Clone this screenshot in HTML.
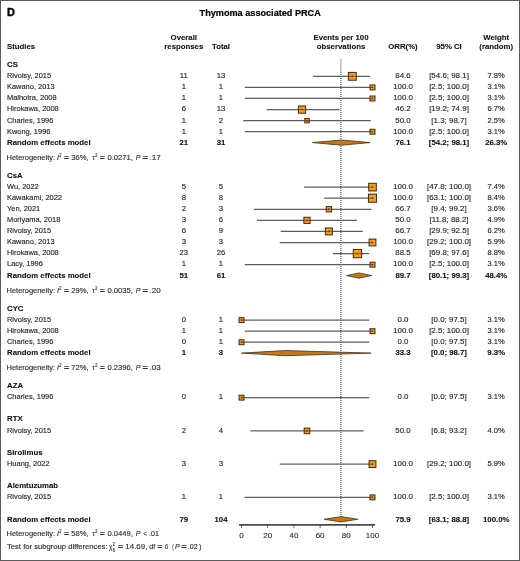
<!DOCTYPE html>
<html><head><meta charset="utf-8"><style>
html,body{margin:0;padding:0;background:#fff;}
svg{display:block;will-change:transform;}
text{font-family:"Liberation Sans",sans-serif;}
</style></head><body>
<svg width="520" height="561" viewBox="0 0 520 561">
<rect x="0" y="0" width="520" height="561" fill="#fff"/>
<rect x="0.5" y="0.5" width="519" height="560" fill="none" stroke="#5c5c5c" stroke-width="1"/>
<path d="M340.3 59h1.2V72h-1.2z" fill="#aaa"/>
<path d="M340.3 72h1.2v1h-1.2zM340.3 74h1.2v1h-1.2zM340.3 76h1.2v1h-1.2zM340.3 78h1.2v1h-1.2zM340.3 80h1.2v1h-1.2zM340.3 82h1.2v1h-1.2zM340.3 84h1.2v1h-1.2zM340.3 86h1.2v1h-1.2zM340.3 88h1.2v1h-1.2zM340.3 90h1.2v1h-1.2zM340.3 92h1.2v1h-1.2zM340.3 94h1.2v1h-1.2zM340.3 96h1.2v1h-1.2zM340.3 98h1.2v1h-1.2zM340.3 100h1.2v1h-1.2zM340.3 102h1.2v1h-1.2zM340.3 104h1.2v1h-1.2zM340.3 106h1.2v1h-1.2zM340.3 108h1.2v1h-1.2zM340.3 110h1.2v1h-1.2zM340.3 112h1.2v1h-1.2zM340.3 114h1.2v1h-1.2zM340.3 116h1.2v1h-1.2zM340.3 118h1.2v1h-1.2zM340.3 120h1.2v1h-1.2zM340.3 122h1.2v1h-1.2zM340.3 124h1.2v1h-1.2zM340.3 126h1.2v1h-1.2zM340.3 128h1.2v1h-1.2zM340.3 130h1.2v1h-1.2zM340.3 132h1.2v1h-1.2zM340.3 134h1.2v1h-1.2zM340.3 136h1.2v1h-1.2zM340.3 138h1.2v1h-1.2zM340.3 140h1.2v1h-1.2zM340.3 142h1.2v1h-1.2zM340.3 144h1.2v1h-1.2zM340.3 146h1.2v1h-1.2zM340.3 148h1.2v1h-1.2zM340.3 150h1.2v1h-1.2zM340.3 152h1.2v1h-1.2zM340.3 154h1.2v1h-1.2zM340.3 156h1.2v1h-1.2zM340.3 158h1.2v1h-1.2zM340.3 160h1.2v1h-1.2zM340.3 162h1.2v1h-1.2zM340.3 164h1.2v1h-1.2zM340.3 166h1.2v1h-1.2zM340.3 168h1.2v1h-1.2zM340.3 170h1.2v1h-1.2zM340.3 172h1.2v1h-1.2zM340.3 174h1.2v1h-1.2zM340.3 176h1.2v1h-1.2zM340.3 178h1.2v1h-1.2zM340.3 180h1.2v1h-1.2zM340.3 182h1.2v1h-1.2zM340.3 184h1.2v1h-1.2zM340.3 186h1.2v1h-1.2zM340.3 188h1.2v1h-1.2zM340.3 190h1.2v1h-1.2zM340.3 192h1.2v1h-1.2zM340.3 194h1.2v1h-1.2zM340.3 196h1.2v1h-1.2zM340.3 198h1.2v1h-1.2zM340.3 200h1.2v1h-1.2zM340.3 202h1.2v1h-1.2zM340.3 204h1.2v1h-1.2zM340.3 206h1.2v1h-1.2zM340.3 208h1.2v1h-1.2zM340.3 210h1.2v1h-1.2zM340.3 212h1.2v1h-1.2zM340.3 214h1.2v1h-1.2zM340.3 216h1.2v1h-1.2zM340.3 218h1.2v1h-1.2zM340.3 220h1.2v1h-1.2zM340.3 222h1.2v1h-1.2zM340.3 224h1.2v1h-1.2zM340.3 226h1.2v1h-1.2zM340.3 228h1.2v1h-1.2zM340.3 230h1.2v1h-1.2zM340.3 232h1.2v1h-1.2zM340.3 234h1.2v1h-1.2zM340.3 236h1.2v1h-1.2zM340.3 238h1.2v1h-1.2zM340.3 240h1.2v1h-1.2zM340.3 242h1.2v1h-1.2zM340.3 244h1.2v1h-1.2zM340.3 246h1.2v1h-1.2zM340.3 248h1.2v1h-1.2zM340.3 250h1.2v1h-1.2zM340.3 252h1.2v1h-1.2zM340.3 254h1.2v1h-1.2zM340.3 256h1.2v1h-1.2zM340.3 258h1.2v1h-1.2zM340.3 260h1.2v1h-1.2zM340.3 262h1.2v1h-1.2zM340.3 264h1.2v1h-1.2zM340.3 266h1.2v1h-1.2zM340.3 268h1.2v1h-1.2zM340.3 270h1.2v1h-1.2zM340.3 272h1.2v1h-1.2zM340.3 274h1.2v1h-1.2zM340.3 276h1.2v1h-1.2zM340.3 278h1.2v1h-1.2zM340.3 280h1.2v1h-1.2zM340.3 282h1.2v1h-1.2zM340.3 284h1.2v1h-1.2zM340.3 286h1.2v1h-1.2zM340.3 288h1.2v1h-1.2zM340.3 290h1.2v1h-1.2zM340.3 292h1.2v1h-1.2zM340.3 294h1.2v1h-1.2zM340.3 296h1.2v1h-1.2zM340.3 298h1.2v1h-1.2zM340.3 300h1.2v1h-1.2zM340.3 302h1.2v1h-1.2zM340.3 304h1.2v1h-1.2zM340.3 306h1.2v1h-1.2zM340.3 308h1.2v1h-1.2zM340.3 310h1.2v1h-1.2zM340.3 312h1.2v1h-1.2zM340.3 314h1.2v1h-1.2zM340.3 316h1.2v1h-1.2zM340.3 318h1.2v1h-1.2zM340.3 320h1.2v1h-1.2zM340.3 322h1.2v1h-1.2zM340.3 324h1.2v1h-1.2zM340.3 326h1.2v1h-1.2zM340.3 328h1.2v1h-1.2zM340.3 330h1.2v1h-1.2zM340.3 332h1.2v1h-1.2zM340.3 334h1.2v1h-1.2zM340.3 336h1.2v1h-1.2zM340.3 338h1.2v1h-1.2zM340.3 340h1.2v1h-1.2zM340.3 342h1.2v1h-1.2zM340.3 344h1.2v1h-1.2zM340.3 346h1.2v1h-1.2zM340.3 348h1.2v1h-1.2zM340.3 350h1.2v1h-1.2zM340.3 352h1.2v1h-1.2zM340.3 354h1.2v1h-1.2zM340.3 356h1.2v1h-1.2zM340.3 358h1.2v1h-1.2zM340.3 360h1.2v1h-1.2zM340.3 362h1.2v1h-1.2zM340.3 364h1.2v1h-1.2zM340.3 366h1.2v1h-1.2zM340.3 368h1.2v1h-1.2zM340.3 370h1.2v1h-1.2zM340.3 372h1.2v1h-1.2zM340.3 374h1.2v1h-1.2zM340.3 376h1.2v1h-1.2zM340.3 378h1.2v1h-1.2zM340.3 380h1.2v1h-1.2zM340.3 382h1.2v1h-1.2zM340.3 384h1.2v1h-1.2zM340.3 386h1.2v1h-1.2zM340.3 388h1.2v1h-1.2zM340.3 390h1.2v1h-1.2zM340.3 392h1.2v1h-1.2zM340.3 394h1.2v1h-1.2zM340.3 396h1.2v1h-1.2zM340.3 398h1.2v1h-1.2zM340.3 400h1.2v1h-1.2zM340.3 402h1.2v1h-1.2zM340.3 404h1.2v1h-1.2zM340.3 406h1.2v1h-1.2zM340.3 408h1.2v1h-1.2zM340.3 410h1.2v1h-1.2zM340.3 412h1.2v1h-1.2zM340.3 414h1.2v1h-1.2zM340.3 416h1.2v1h-1.2zM340.3 418h1.2v1h-1.2zM340.3 420h1.2v1h-1.2zM340.3 422h1.2v1h-1.2zM340.3 424h1.2v1h-1.2zM340.3 426h1.2v1h-1.2zM340.3 428h1.2v1h-1.2zM340.3 430h1.2v1h-1.2zM340.3 432h1.2v1h-1.2zM340.3 434h1.2v1h-1.2zM340.3 436h1.2v1h-1.2zM340.3 438h1.2v1h-1.2zM340.3 440h1.2v1h-1.2zM340.3 442h1.2v1h-1.2zM340.3 444h1.2v1h-1.2zM340.3 446h1.2v1h-1.2zM340.3 448h1.2v1h-1.2zM340.3 450h1.2v1h-1.2zM340.3 452h1.2v1h-1.2zM340.3 454h1.2v1h-1.2zM340.3 456h1.2v1h-1.2zM340.3 458h1.2v1h-1.2zM340.3 460h1.2v1h-1.2zM340.3 462h1.2v1h-1.2zM340.3 464h1.2v1h-1.2zM340.3 466h1.2v1h-1.2zM340.3 468h1.2v1h-1.2zM340.3 470h1.2v1h-1.2zM340.3 472h1.2v1h-1.2zM340.3 474h1.2v1h-1.2zM340.3 476h1.2v1h-1.2zM340.3 478h1.2v1h-1.2zM340.3 480h1.2v1h-1.2zM340.3 482h1.2v1h-1.2zM340.3 484h1.2v1h-1.2zM340.3 486h1.2v1h-1.2zM340.3 488h1.2v1h-1.2zM340.3 490h1.2v1h-1.2zM340.3 492h1.2v1h-1.2zM340.3 494h1.2v1h-1.2zM340.3 496h1.2v1h-1.2zM340.3 498h1.2v1h-1.2zM340.3 500h1.2v1h-1.2zM340.3 502h1.2v1h-1.2zM340.3 504h1.2v1h-1.2zM340.3 506h1.2v1h-1.2zM340.3 508h1.2v1h-1.2zM340.3 510h1.2v1h-1.2zM340.3 512h1.2v1h-1.2zM340.3 514h1.2v1h-1.2zM340.3 516h1.2v1h-1.2z" fill="#555"/>
<line x1="313.03" y1="76.32" x2="370.01" y2="76.32" stroke="#5e5e5e" stroke-width="1.25"/>
<line x1="244.78" y1="87.40" x2="372.50" y2="87.40" stroke="#5e5e5e" stroke-width="1.25"/>
<line x1="244.78" y1="98.48" x2="372.50" y2="98.48" stroke="#5e5e5e" stroke-width="1.25"/>
<line x1="266.65" y1="109.56" x2="339.62" y2="109.56" stroke="#5e5e5e" stroke-width="1.25"/>
<line x1="243.20" y1="120.64" x2="370.80" y2="120.64" stroke="#5e5e5e" stroke-width="1.25"/>
<line x1="244.78" y1="131.72" x2="372.50" y2="131.72" stroke="#5e5e5e" stroke-width="1.25"/>
<line x1="304.12" y1="187.12" x2="372.50" y2="187.12" stroke="#5e5e5e" stroke-width="1.25"/>
<line x1="324.16" y1="198.20" x2="372.50" y2="198.20" stroke="#5e5e5e" stroke-width="1.25"/>
<line x1="253.81" y1="209.28" x2="371.45" y2="209.28" stroke="#5e5e5e" stroke-width="1.25"/>
<line x1="256.96" y1="220.36" x2="357.04" y2="220.36" stroke="#5e5e5e" stroke-width="1.25"/>
<line x1="280.67" y1="231.44" x2="362.68" y2="231.44" stroke="#5e5e5e" stroke-width="1.25"/>
<line x1="279.75" y1="242.52" x2="372.50" y2="242.52" stroke="#5e5e5e" stroke-width="1.25"/>
<line x1="332.94" y1="253.60" x2="369.36" y2="253.60" stroke="#5e5e5e" stroke-width="1.25"/>
<line x1="244.78" y1="264.68" x2="372.50" y2="264.68" stroke="#5e5e5e" stroke-width="1.25"/>
<line x1="241.50" y1="320.08" x2="369.23" y2="320.08" stroke="#5e5e5e" stroke-width="1.25"/>
<line x1="244.78" y1="331.16" x2="372.50" y2="331.16" stroke="#5e5e5e" stroke-width="1.25"/>
<line x1="241.50" y1="342.24" x2="369.23" y2="342.24" stroke="#5e5e5e" stroke-width="1.25"/>
<line x1="241.50" y1="397.64" x2="369.23" y2="397.64" stroke="#5e5e5e" stroke-width="1.25"/>
<line x1="250.41" y1="430.88" x2="363.59" y2="430.88" stroke="#5e5e5e" stroke-width="1.25"/>
<line x1="279.75" y1="464.12" x2="372.50" y2="464.12" stroke="#5e5e5e" stroke-width="1.25"/>
<line x1="244.78" y1="497.36" x2="372.50" y2="497.36" stroke="#5e5e5e" stroke-width="1.25"/>
<rect x="348.42" y="72.41" width="7.82" height="7.82" fill="#eca21e" stroke="#3d2a0c" stroke-width="1.0"/>
<line x1="348.42" y1="76.32" x2="356.24" y2="76.32" stroke="rgba(150,50,0,0.7)" stroke-width="1.1"/>
<rect x="351.58" y="75.57" width="1.5" height="1.5" fill="#8a2008"/>
<rect x="370.04" y="84.94" width="4.93" height="4.93" fill="#eca21e" stroke="#3d2a0c" stroke-width="1.0"/>
<line x1="370.04" y1="87.40" x2="372.50" y2="87.40" stroke="rgba(150,50,0,0.7)" stroke-width="1.1"/>
<rect x="371.75" y="86.65" width="1.5" height="1.5" fill="#8a2008"/>
<rect x="370.04" y="96.02" width="4.93" height="4.93" fill="#eca21e" stroke="#3d2a0c" stroke-width="1.0"/>
<line x1="370.04" y1="98.48" x2="372.50" y2="98.48" stroke="rgba(150,50,0,0.7)" stroke-width="1.1"/>
<rect x="371.75" y="97.73" width="1.5" height="1.5" fill="#8a2008"/>
<rect x="298.40" y="105.94" width="7.25" height="7.25" fill="#eca21e" stroke="#3d2a0c" stroke-width="1.0"/>
<line x1="298.40" y1="109.56" x2="305.65" y2="109.56" stroke="rgba(150,50,0,0.7)" stroke-width="1.1"/>
<rect x="301.27" y="108.81" width="1.5" height="1.5" fill="#8a2008"/>
<rect x="304.79" y="118.43" width="4.43" height="4.43" fill="#eca21e" stroke="#3d2a0c" stroke-width="1.0"/>
<line x1="304.79" y1="120.64" x2="309.21" y2="120.64" stroke="rgba(150,50,0,0.7)" stroke-width="1.1"/>
<rect x="306.25" y="119.89" width="1.5" height="1.5" fill="#8a2008"/>
<rect x="370.04" y="129.26" width="4.93" height="4.93" fill="#eca21e" stroke="#3d2a0c" stroke-width="1.0"/>
<line x1="370.04" y1="131.72" x2="372.50" y2="131.72" stroke="rgba(150,50,0,0.7)" stroke-width="1.1"/>
<rect x="371.75" y="130.97" width="1.5" height="1.5" fill="#8a2008"/>
<polygon points="312.50,142.60 341.19,140.00 370.01,142.60 341.19,145.20" fill="#c47a1c" stroke="#4a3010" stroke-width="0.8"/>
<rect x="368.69" y="183.31" width="7.62" height="7.62" fill="#eca21e" stroke="#3d2a0c" stroke-width="1.0"/>
<line x1="368.69" y1="187.12" x2="372.50" y2="187.12" stroke="rgba(150,50,0,0.7)" stroke-width="1.1"/>
<rect x="371.75" y="186.37" width="1.5" height="1.5" fill="#8a2008"/>
<rect x="368.44" y="194.14" width="8.12" height="8.12" fill="#eca21e" stroke="#3d2a0c" stroke-width="1.0"/>
<line x1="368.44" y1="198.20" x2="372.50" y2="198.20" stroke="rgba(150,50,0,0.7)" stroke-width="1.1"/>
<rect x="371.75" y="197.45" width="1.5" height="1.5" fill="#8a2008"/>
<rect x="326.22" y="206.62" width="5.31" height="5.31" fill="#eca21e" stroke="#3d2a0c" stroke-width="1.0"/>
<line x1="326.22" y1="209.28" x2="331.53" y2="209.28" stroke="rgba(150,50,0,0.7)" stroke-width="1.1"/>
<rect x="328.13" y="208.53" width="1.5" height="1.5" fill="#8a2008"/>
<rect x="303.90" y="217.26" width="6.20" height="6.20" fill="#eca21e" stroke="#3d2a0c" stroke-width="1.0"/>
<line x1="303.90" y1="220.36" x2="310.10" y2="220.36" stroke="rgba(150,50,0,0.7)" stroke-width="1.1"/>
<rect x="306.25" y="219.61" width="1.5" height="1.5" fill="#8a2008"/>
<rect x="325.39" y="227.95" width="6.97" height="6.97" fill="#eca21e" stroke="#3d2a0c" stroke-width="1.0"/>
<line x1="325.39" y1="231.44" x2="332.36" y2="231.44" stroke="rgba(150,50,0,0.7)" stroke-width="1.1"/>
<rect x="328.13" y="230.69" width="1.5" height="1.5" fill="#8a2008"/>
<rect x="369.10" y="239.12" width="6.80" height="6.80" fill="#eca21e" stroke="#3d2a0c" stroke-width="1.0"/>
<line x1="369.10" y1="242.52" x2="372.50" y2="242.52" stroke="rgba(150,50,0,0.7)" stroke-width="1.1"/>
<rect x="371.75" y="241.77" width="1.5" height="1.5" fill="#8a2008"/>
<rect x="353.28" y="249.45" width="8.31" height="8.31" fill="#eca21e" stroke="#3d2a0c" stroke-width="1.0"/>
<line x1="353.28" y1="253.60" x2="361.59" y2="253.60" stroke="rgba(150,50,0,0.7)" stroke-width="1.1"/>
<rect x="356.69" y="252.85" width="1.5" height="1.5" fill="#8a2008"/>
<rect x="370.04" y="262.22" width="4.93" height="4.93" fill="#eca21e" stroke="#3d2a0c" stroke-width="1.0"/>
<line x1="370.04" y1="264.68" x2="372.50" y2="264.68" stroke="rgba(150,50,0,0.7)" stroke-width="1.1"/>
<rect x="371.75" y="263.93" width="1.5" height="1.5" fill="#8a2008"/>
<polygon points="346.43,275.56 359.01,272.96 371.58,275.56 359.01,278.16" fill="#c47a1c" stroke="#4a3010" stroke-width="0.8"/>
<rect x="239.04" y="317.62" width="4.93" height="4.93" fill="#eca21e" stroke="#3d2a0c" stroke-width="1.0"/>
<line x1="241.50" y1="320.08" x2="243.96" y2="320.08" stroke="rgba(150,50,0,0.7)" stroke-width="1.1"/>
<rect x="240.75" y="319.33" width="1.5" height="1.5" fill="#8a2008"/>
<rect x="370.04" y="328.70" width="4.93" height="4.93" fill="#eca21e" stroke="#3d2a0c" stroke-width="1.0"/>
<line x1="370.04" y1="331.16" x2="372.50" y2="331.16" stroke="rgba(150,50,0,0.7)" stroke-width="1.1"/>
<rect x="371.75" y="330.41" width="1.5" height="1.5" fill="#8a2008"/>
<rect x="239.04" y="339.78" width="4.93" height="4.93" fill="#eca21e" stroke="#3d2a0c" stroke-width="1.0"/>
<line x1="241.50" y1="342.24" x2="243.96" y2="342.24" stroke="rgba(150,50,0,0.7)" stroke-width="1.1"/>
<rect x="240.75" y="341.49" width="1.5" height="1.5" fill="#8a2008"/>
<polygon points="241.50,353.12 285.12,350.52 370.80,353.12 285.12,355.72" fill="#c47a1c" stroke="#4a3010" stroke-width="0.8"/>
<rect x="239.04" y="395.18" width="4.93" height="4.93" fill="#eca21e" stroke="#3d2a0c" stroke-width="1.0"/>
<line x1="241.50" y1="397.64" x2="243.96" y2="397.64" stroke="rgba(150,50,0,0.7)" stroke-width="1.1"/>
<rect x="240.75" y="396.89" width="1.5" height="1.5" fill="#8a2008"/>
<rect x="304.20" y="428.08" width="5.60" height="5.60" fill="#eca21e" stroke="#3d2a0c" stroke-width="1.0"/>
<line x1="304.20" y1="430.88" x2="309.80" y2="430.88" stroke="rgba(150,50,0,0.7)" stroke-width="1.1"/>
<rect x="306.25" y="430.13" width="1.5" height="1.5" fill="#8a2008"/>
<rect x="369.10" y="460.72" width="6.80" height="6.80" fill="#eca21e" stroke="#3d2a0c" stroke-width="1.0"/>
<line x1="369.10" y1="464.12" x2="372.50" y2="464.12" stroke="rgba(150,50,0,0.7)" stroke-width="1.1"/>
<rect x="371.75" y="463.37" width="1.5" height="1.5" fill="#8a2008"/>
<rect x="370.04" y="494.90" width="4.93" height="4.93" fill="#eca21e" stroke="#3d2a0c" stroke-width="1.0"/>
<line x1="370.04" y1="497.36" x2="372.50" y2="497.36" stroke="rgba(150,50,0,0.7)" stroke-width="1.1"/>
<rect x="371.75" y="496.61" width="1.5" height="1.5" fill="#8a2008"/>
<polygon points="324.16,519.27 340.93,516.57 357.83,519.27 340.93,521.97" fill="#c47a1c" stroke="#4a3010" stroke-width="0.8"/>
<line x1="239.0" y1="524.8" x2="375.0" y2="524.8" stroke="#4a4a4a" stroke-width="1.7"/>
<line x1="241.50" y1="524.8" x2="241.50" y2="527.8" stroke="#444" stroke-width="0.9"/>
<line x1="267.70" y1="524.8" x2="267.70" y2="527.8" stroke="#444" stroke-width="0.9"/>
<line x1="293.90" y1="524.8" x2="293.90" y2="527.8" stroke="#444" stroke-width="0.9"/>
<line x1="320.10" y1="524.8" x2="320.10" y2="527.8" stroke="#444" stroke-width="0.9"/>
<line x1="346.30" y1="524.8" x2="346.30" y2="527.8" stroke="#444" stroke-width="0.9"/>
<line x1="372.50" y1="524.8" x2="372.50" y2="527.8" stroke="#444" stroke-width="0.9"/>
<text x="6.90" y="15.70" text-anchor="start" font-size="10.9" fill="#000" font-weight="bold" stroke="#000" stroke-width="0.4">D</text>
<text x="260.20" y="15.60" text-anchor="middle" font-size="9.15" fill="#000" font-weight="bold" stroke="#000" stroke-width="0.2">Thymoma associated PRCA</text>
<text x="7.00" y="48.60" text-anchor="start" font-size="7.8" fill="#111" font-weight="bold" stroke="#111" stroke-width="0.1">Studies</text>
<text x="183.80" y="39.60" text-anchor="middle" font-size="7.8" fill="#111" font-weight="bold" stroke="#111" stroke-width="0.1">Overall</text>
<text x="183.80" y="48.60" text-anchor="middle" font-size="7.8" fill="#111" font-weight="bold" stroke="#111" stroke-width="0.1">responses</text>
<text x="221.00" y="48.60" text-anchor="middle" font-size="7.8" fill="#111" font-weight="bold" stroke="#111" stroke-width="0.1">Total</text>
<text x="341.00" y="39.60" text-anchor="middle" font-size="7.8" fill="#111" font-weight="bold" stroke="#111" stroke-width="0.1">Events per 100</text>
<text x="341.00" y="48.60" text-anchor="middle" font-size="7.8" fill="#111" font-weight="bold" stroke="#111" stroke-width="0.1">observations</text>
<text x="403.00" y="48.60" text-anchor="middle" font-size="7.8" fill="#111" font-weight="bold" stroke="#111" stroke-width="0.1">ORR(%)</text>
<text x="449.00" y="48.60" text-anchor="middle" font-size="7.8" fill="#111" font-weight="bold" stroke="#111" stroke-width="0.1">95% CI</text>
<text x="496.20" y="39.60" text-anchor="middle" font-size="7.8" fill="#111" font-weight="bold" stroke="#111" stroke-width="0.1">Weight</text>
<text x="496.20" y="48.60" text-anchor="middle" font-size="7.8" fill="#111" font-weight="bold" stroke="#111" stroke-width="0.1">(random)</text>
<text x="7.00" y="67.15" text-anchor="start" font-size="7.8" fill="#111" font-weight="bold" stroke="#111" stroke-width="0.1">CS</text>
<text x="7.00" y="78.22" text-anchor="start" font-size="7.45" fill="#262626" stroke="#262626" stroke-width="0.14">Rivoisy, 2015</text>
<text x="183.80" y="78.22" text-anchor="middle" font-size="7.7" fill="#262626" stroke="#262626" stroke-width="0.14">11</text>
<text x="221.00" y="78.22" text-anchor="middle" font-size="7.7" fill="#262626" stroke="#262626" stroke-width="0.14">13</text>
<text x="403.00" y="78.22" text-anchor="middle" font-size="7.9" fill="#262626" stroke="#262626" stroke-width="0.14">84.6</text>
<text x="449.00" y="78.22" text-anchor="middle" font-size="7.95" fill="#262626" stroke="#262626" stroke-width="0.14">[54.6; 98.1]</text>
<text x="496.20" y="78.22" text-anchor="middle" font-size="7.6" fill="#262626" stroke="#262626" stroke-width="0.14">7.8%</text>
<text x="7.00" y="89.30" text-anchor="start" font-size="7.45" fill="#262626" stroke="#262626" stroke-width="0.14">Kawano, 2013</text>
<text x="183.80" y="89.30" text-anchor="middle" font-size="7.7" fill="#262626" stroke="#262626" stroke-width="0.14">1</text>
<text x="221.00" y="89.30" text-anchor="middle" font-size="7.7" fill="#262626" stroke="#262626" stroke-width="0.14">1</text>
<text x="403.00" y="89.30" text-anchor="middle" font-size="7.9" fill="#262626" stroke="#262626" stroke-width="0.14">100.0</text>
<text x="449.00" y="89.30" text-anchor="middle" font-size="7.95" fill="#262626" stroke="#262626" stroke-width="0.14">[2.5; 100.0]</text>
<text x="496.20" y="89.30" text-anchor="middle" font-size="7.6" fill="#262626" stroke="#262626" stroke-width="0.14">3.1%</text>
<text x="7.00" y="100.37" text-anchor="start" font-size="7.45" fill="#262626" stroke="#262626" stroke-width="0.14">Malhotra, 2008</text>
<text x="183.80" y="100.37" text-anchor="middle" font-size="7.7" fill="#262626" stroke="#262626" stroke-width="0.14">1</text>
<text x="221.00" y="100.37" text-anchor="middle" font-size="7.7" fill="#262626" stroke="#262626" stroke-width="0.14">1</text>
<text x="403.00" y="100.37" text-anchor="middle" font-size="7.9" fill="#262626" stroke="#262626" stroke-width="0.14">100.0</text>
<text x="449.00" y="100.37" text-anchor="middle" font-size="7.95" fill="#262626" stroke="#262626" stroke-width="0.14">[2.5; 100.0]</text>
<text x="496.20" y="100.37" text-anchor="middle" font-size="7.6" fill="#262626" stroke="#262626" stroke-width="0.14">3.1%</text>
<text x="7.00" y="111.44" text-anchor="start" font-size="7.45" fill="#262626" stroke="#262626" stroke-width="0.14">Hirokawa, 2008</text>
<text x="183.80" y="111.44" text-anchor="middle" font-size="7.7" fill="#262626" stroke="#262626" stroke-width="0.14">6</text>
<text x="221.00" y="111.44" text-anchor="middle" font-size="7.7" fill="#262626" stroke="#262626" stroke-width="0.14">13</text>
<text x="403.00" y="111.44" text-anchor="middle" font-size="7.9" fill="#262626" stroke="#262626" stroke-width="0.14">46.2</text>
<text x="449.00" y="111.44" text-anchor="middle" font-size="7.95" fill="#262626" stroke="#262626" stroke-width="0.14">[19.2; 74.9]</text>
<text x="496.20" y="111.44" text-anchor="middle" font-size="7.6" fill="#262626" stroke="#262626" stroke-width="0.14">6.7%</text>
<text x="7.00" y="122.52" text-anchor="start" font-size="7.45" fill="#262626" stroke="#262626" stroke-width="0.14">Charles, 1996</text>
<text x="183.80" y="122.52" text-anchor="middle" font-size="7.7" fill="#262626" stroke="#262626" stroke-width="0.14">1</text>
<text x="221.00" y="122.52" text-anchor="middle" font-size="7.7" fill="#262626" stroke="#262626" stroke-width="0.14">2</text>
<text x="403.00" y="122.52" text-anchor="middle" font-size="7.9" fill="#262626" stroke="#262626" stroke-width="0.14">50.0</text>
<text x="449.00" y="122.52" text-anchor="middle" font-size="7.95" fill="#262626" stroke="#262626" stroke-width="0.14">[1.3; 98.7]</text>
<text x="496.20" y="122.52" text-anchor="middle" font-size="7.6" fill="#262626" stroke="#262626" stroke-width="0.14">2.5%</text>
<text x="7.00" y="133.59" text-anchor="start" font-size="7.45" fill="#262626" stroke="#262626" stroke-width="0.14">Kwong, 1996</text>
<text x="183.80" y="133.59" text-anchor="middle" font-size="7.7" fill="#262626" stroke="#262626" stroke-width="0.14">1</text>
<text x="221.00" y="133.59" text-anchor="middle" font-size="7.7" fill="#262626" stroke="#262626" stroke-width="0.14">1</text>
<text x="403.00" y="133.59" text-anchor="middle" font-size="7.9" fill="#262626" stroke="#262626" stroke-width="0.14">100.0</text>
<text x="449.00" y="133.59" text-anchor="middle" font-size="7.95" fill="#262626" stroke="#262626" stroke-width="0.14">[2.5; 100.0]</text>
<text x="496.20" y="133.59" text-anchor="middle" font-size="7.6" fill="#262626" stroke="#262626" stroke-width="0.14">3.1%</text>
<text x="7.00" y="144.66" text-anchor="start" font-size="7.8" fill="#111" font-weight="bold" stroke="#111" stroke-width="0.1">Random effects model</text>
<text x="183.80" y="144.66" text-anchor="middle" font-size="7.8" fill="#111" font-weight="bold" stroke="#111" stroke-width="0.1">21</text>
<text x="221.00" y="144.66" text-anchor="middle" font-size="7.8" fill="#111" font-weight="bold" stroke="#111" stroke-width="0.1">31</text>
<text x="403.00" y="144.66" text-anchor="middle" font-size="7.8" fill="#111" font-weight="bold" stroke="#111" stroke-width="0.1">76.1</text>
<text x="449.00" y="144.66" text-anchor="middle" font-size="7.8" fill="#111" font-weight="bold" stroke="#111" stroke-width="0.1">[54.2; 98.1]</text>
<text x="496.20" y="144.66" text-anchor="middle" font-size="7.8" fill="#111" font-weight="bold" stroke="#111" stroke-width="0.1">26.3%</text>
<text x="6.54" y="159.66" font-size="7.5" fill="#2e2e2e" stroke="#2e2e2e" stroke-width="0.14" textLength="48.49" lengthAdjust="spacingAndGlyphs">Heterogeneity:</text>
<text x="56.88" y="159.66" font-size="7.5" fill="#2e2e2e" font-style="italic" stroke="#2e2e2e" stroke-width="0.14" textLength="1.95" lengthAdjust="spacingAndGlyphs">I</text>
<text x="59.25" y="157.06" font-size="4.6" fill="#2e2e2e" stroke="#2e2e2e" stroke-width="0.14" textLength="2.20" lengthAdjust="spacingAndGlyphs">2</text>
<text x="63.67" y="159.66" font-size="7.5" fill="#2e2e2e" font-weight="bold" textLength="5.47" lengthAdjust="spacingAndGlyphs">=</text>
<text x="71.26" y="159.66" font-size="7.5" fill="#2e2e2e" stroke="#2e2e2e" stroke-width="0.14" textLength="17.27" lengthAdjust="spacingAndGlyphs">36%,</text>
<text x="92.26" y="159.66" font-size="7.5" fill="#2e2e2e" stroke="#2e2e2e" stroke-width="0.14" textLength="2.54" lengthAdjust="spacingAndGlyphs">τ</text>
<text x="95.25" y="157.06" font-size="4.6" fill="#2e2e2e" stroke="#2e2e2e" stroke-width="0.14" textLength="2.20" lengthAdjust="spacingAndGlyphs">2</text>
<text x="99.68" y="159.66" font-size="7.5" fill="#2e2e2e" font-weight="bold" textLength="5.23" lengthAdjust="spacingAndGlyphs">=</text>
<text x="107.45" y="159.66" font-size="7.5" fill="#2e2e2e" stroke="#2e2e2e" stroke-width="0.14" textLength="25.48" lengthAdjust="spacingAndGlyphs">0.0271,</text>
<text x="135.64" y="159.66" font-size="7.5" fill="#2e2e2e" font-style="italic" stroke="#2e2e2e" stroke-width="0.14" textLength="4.76" lengthAdjust="spacingAndGlyphs">P</text>
<text x="142.33" y="159.66" font-size="7.5" fill="#2e2e2e" font-weight="bold" textLength="5.93" lengthAdjust="spacingAndGlyphs">=</text>
<text x="149.51" y="159.66" font-size="7.5" fill="#2e2e2e" stroke="#2e2e2e" stroke-width="0.14" textLength="11.24" lengthAdjust="spacingAndGlyphs">.17</text>
<text x="7.00" y="177.88" text-anchor="start" font-size="7.8" fill="#111" font-weight="bold" stroke="#111" stroke-width="0.1">CsA</text>
<text x="7.00" y="188.95" text-anchor="start" font-size="7.45" fill="#262626" stroke="#262626" stroke-width="0.14">Wu, 2022</text>
<text x="183.80" y="188.95" text-anchor="middle" font-size="7.7" fill="#262626" stroke="#262626" stroke-width="0.14">5</text>
<text x="221.00" y="188.95" text-anchor="middle" font-size="7.7" fill="#262626" stroke="#262626" stroke-width="0.14">5</text>
<text x="403.00" y="188.95" text-anchor="middle" font-size="7.9" fill="#262626" stroke="#262626" stroke-width="0.14">100.0</text>
<text x="449.00" y="188.95" text-anchor="middle" font-size="7.95" fill="#262626" stroke="#262626" stroke-width="0.14">[47.8; 100.0]</text>
<text x="496.20" y="188.95" text-anchor="middle" font-size="7.6" fill="#262626" stroke="#262626" stroke-width="0.14">7.4%</text>
<text x="7.00" y="200.03" text-anchor="start" font-size="7.45" fill="#262626" stroke="#262626" stroke-width="0.14">Kawakami, 2022</text>
<text x="183.80" y="200.03" text-anchor="middle" font-size="7.7" fill="#262626" stroke="#262626" stroke-width="0.14">8</text>
<text x="221.00" y="200.03" text-anchor="middle" font-size="7.7" fill="#262626" stroke="#262626" stroke-width="0.14">8</text>
<text x="403.00" y="200.03" text-anchor="middle" font-size="7.9" fill="#262626" stroke="#262626" stroke-width="0.14">100.0</text>
<text x="449.00" y="200.03" text-anchor="middle" font-size="7.95" fill="#262626" stroke="#262626" stroke-width="0.14">[63.1; 100.0]</text>
<text x="496.20" y="200.03" text-anchor="middle" font-size="7.6" fill="#262626" stroke="#262626" stroke-width="0.14">8.4%</text>
<text x="7.00" y="211.10" text-anchor="start" font-size="7.45" fill="#262626" stroke="#262626" stroke-width="0.14">Yen, 2021</text>
<text x="183.80" y="211.10" text-anchor="middle" font-size="7.7" fill="#262626" stroke="#262626" stroke-width="0.14">2</text>
<text x="221.00" y="211.10" text-anchor="middle" font-size="7.7" fill="#262626" stroke="#262626" stroke-width="0.14">3</text>
<text x="403.00" y="211.10" text-anchor="middle" font-size="7.9" fill="#262626" stroke="#262626" stroke-width="0.14">66.7</text>
<text x="449.00" y="211.10" text-anchor="middle" font-size="7.95" fill="#262626" stroke="#262626" stroke-width="0.14">[9.4; 99.2]</text>
<text x="496.20" y="211.10" text-anchor="middle" font-size="7.6" fill="#262626" stroke="#262626" stroke-width="0.14">3.6%</text>
<text x="7.00" y="222.17" text-anchor="start" font-size="7.45" fill="#262626" stroke="#262626" stroke-width="0.14">Moriyama, 2018</text>
<text x="183.80" y="222.17" text-anchor="middle" font-size="7.7" fill="#262626" stroke="#262626" stroke-width="0.14">3</text>
<text x="221.00" y="222.17" text-anchor="middle" font-size="7.7" fill="#262626" stroke="#262626" stroke-width="0.14">6</text>
<text x="403.00" y="222.17" text-anchor="middle" font-size="7.9" fill="#262626" stroke="#262626" stroke-width="0.14">50.0</text>
<text x="449.00" y="222.17" text-anchor="middle" font-size="7.95" fill="#262626" stroke="#262626" stroke-width="0.14">[11.8; 88.2]</text>
<text x="496.20" y="222.17" text-anchor="middle" font-size="7.6" fill="#262626" stroke="#262626" stroke-width="0.14">4.9%</text>
<text x="7.00" y="233.25" text-anchor="start" font-size="7.45" fill="#262626" stroke="#262626" stroke-width="0.14">Rivoisy, 2015</text>
<text x="183.80" y="233.25" text-anchor="middle" font-size="7.7" fill="#262626" stroke="#262626" stroke-width="0.14">6</text>
<text x="221.00" y="233.25" text-anchor="middle" font-size="7.7" fill="#262626" stroke="#262626" stroke-width="0.14">9</text>
<text x="403.00" y="233.25" text-anchor="middle" font-size="7.9" fill="#262626" stroke="#262626" stroke-width="0.14">66.7</text>
<text x="449.00" y="233.25" text-anchor="middle" font-size="7.95" fill="#262626" stroke="#262626" stroke-width="0.14">[29.9; 92.5]</text>
<text x="496.20" y="233.25" text-anchor="middle" font-size="7.6" fill="#262626" stroke="#262626" stroke-width="0.14">6.2%</text>
<text x="7.00" y="244.32" text-anchor="start" font-size="7.45" fill="#262626" stroke="#262626" stroke-width="0.14">Kawano, 2013</text>
<text x="183.80" y="244.32" text-anchor="middle" font-size="7.7" fill="#262626" stroke="#262626" stroke-width="0.14">3</text>
<text x="221.00" y="244.32" text-anchor="middle" font-size="7.7" fill="#262626" stroke="#262626" stroke-width="0.14">3</text>
<text x="403.00" y="244.32" text-anchor="middle" font-size="7.9" fill="#262626" stroke="#262626" stroke-width="0.14">100.0</text>
<text x="449.00" y="244.32" text-anchor="middle" font-size="7.95" fill="#262626" stroke="#262626" stroke-width="0.14">[29.2; 100.0]</text>
<text x="496.20" y="244.32" text-anchor="middle" font-size="7.6" fill="#262626" stroke="#262626" stroke-width="0.14">5.9%</text>
<text x="7.00" y="255.39" text-anchor="start" font-size="7.45" fill="#262626" stroke="#262626" stroke-width="0.14">Hirokawa, 2008</text>
<text x="183.80" y="255.39" text-anchor="middle" font-size="7.7" fill="#262626" stroke="#262626" stroke-width="0.14">23</text>
<text x="221.00" y="255.39" text-anchor="middle" font-size="7.7" fill="#262626" stroke="#262626" stroke-width="0.14">26</text>
<text x="403.00" y="255.39" text-anchor="middle" font-size="7.9" fill="#262626" stroke="#262626" stroke-width="0.14">88.5</text>
<text x="449.00" y="255.39" text-anchor="middle" font-size="7.95" fill="#262626" stroke="#262626" stroke-width="0.14">[69.8; 97.6]</text>
<text x="496.20" y="255.39" text-anchor="middle" font-size="7.6" fill="#262626" stroke="#262626" stroke-width="0.14">8.8%</text>
<text x="7.00" y="266.46" text-anchor="start" font-size="7.45" fill="#262626" stroke="#262626" stroke-width="0.14">Lacy, 1996</text>
<text x="183.80" y="266.46" text-anchor="middle" font-size="7.7" fill="#262626" stroke="#262626" stroke-width="0.14">1</text>
<text x="221.00" y="266.46" text-anchor="middle" font-size="7.7" fill="#262626" stroke="#262626" stroke-width="0.14">1</text>
<text x="403.00" y="266.46" text-anchor="middle" font-size="7.9" fill="#262626" stroke="#262626" stroke-width="0.14">100.0</text>
<text x="449.00" y="266.46" text-anchor="middle" font-size="7.95" fill="#262626" stroke="#262626" stroke-width="0.14">[2.5; 100.0]</text>
<text x="496.20" y="266.46" text-anchor="middle" font-size="7.6" fill="#262626" stroke="#262626" stroke-width="0.14">3.1%</text>
<text x="7.00" y="277.54" text-anchor="start" font-size="7.8" fill="#111" font-weight="bold" stroke="#111" stroke-width="0.1">Random effects model</text>
<text x="183.80" y="277.54" text-anchor="middle" font-size="7.8" fill="#111" font-weight="bold" stroke="#111" stroke-width="0.1">51</text>
<text x="221.00" y="277.54" text-anchor="middle" font-size="7.8" fill="#111" font-weight="bold" stroke="#111" stroke-width="0.1">61</text>
<text x="403.00" y="277.54" text-anchor="middle" font-size="7.8" fill="#111" font-weight="bold" stroke="#111" stroke-width="0.1">89.7</text>
<text x="449.00" y="277.54" text-anchor="middle" font-size="7.8" fill="#111" font-weight="bold" stroke="#111" stroke-width="0.1">[80.1; 99.3]</text>
<text x="496.20" y="277.54" text-anchor="middle" font-size="7.8" fill="#111" font-weight="bold" stroke="#111" stroke-width="0.1">48.4%</text>
<text x="6.54" y="292.54" font-size="7.5" fill="#2e2e2e" stroke="#2e2e2e" stroke-width="0.14" textLength="48.49" lengthAdjust="spacingAndGlyphs">Heterogeneity:</text>
<text x="56.88" y="292.54" font-size="7.5" fill="#2e2e2e" font-style="italic" stroke="#2e2e2e" stroke-width="0.14" textLength="1.95" lengthAdjust="spacingAndGlyphs">I</text>
<text x="59.25" y="289.94" font-size="4.6" fill="#2e2e2e" stroke="#2e2e2e" stroke-width="0.14" textLength="2.20" lengthAdjust="spacingAndGlyphs">2</text>
<text x="63.67" y="292.54" font-size="7.5" fill="#2e2e2e" font-weight="bold" textLength="5.47" lengthAdjust="spacingAndGlyphs">=</text>
<text x="71.17" y="292.54" font-size="7.5" fill="#2e2e2e" stroke="#2e2e2e" stroke-width="0.14" textLength="17.37" lengthAdjust="spacingAndGlyphs">29%,</text>
<text x="92.26" y="292.54" font-size="7.5" fill="#2e2e2e" stroke="#2e2e2e" stroke-width="0.14" textLength="2.54" lengthAdjust="spacingAndGlyphs">τ</text>
<text x="95.25" y="289.94" font-size="4.6" fill="#2e2e2e" stroke="#2e2e2e" stroke-width="0.14" textLength="2.20" lengthAdjust="spacingAndGlyphs">2</text>
<text x="99.68" y="292.54" font-size="7.5" fill="#2e2e2e" font-weight="bold" textLength="5.23" lengthAdjust="spacingAndGlyphs">=</text>
<text x="107.45" y="292.54" font-size="7.5" fill="#2e2e2e" stroke="#2e2e2e" stroke-width="0.14" textLength="25.48" lengthAdjust="spacingAndGlyphs">0.0035,</text>
<text x="135.64" y="292.54" font-size="7.5" fill="#2e2e2e" font-style="italic" stroke="#2e2e2e" stroke-width="0.14" textLength="4.76" lengthAdjust="spacingAndGlyphs">P</text>
<text x="142.33" y="292.54" font-size="7.5" fill="#2e2e2e" font-weight="bold" textLength="5.93" lengthAdjust="spacingAndGlyphs">=</text>
<text x="149.52" y="292.54" font-size="7.5" fill="#2e2e2e" stroke="#2e2e2e" stroke-width="0.14" textLength="11.13" lengthAdjust="spacingAndGlyphs">.20</text>
<text x="7.00" y="310.76" text-anchor="start" font-size="7.8" fill="#111" font-weight="bold" stroke="#111" stroke-width="0.1">CYC</text>
<text x="7.00" y="321.83" text-anchor="start" font-size="7.45" fill="#262626" stroke="#262626" stroke-width="0.14">Rivoisy, 2015</text>
<text x="183.80" y="321.83" text-anchor="middle" font-size="7.7" fill="#262626" stroke="#262626" stroke-width="0.14">0</text>
<text x="221.00" y="321.83" text-anchor="middle" font-size="7.7" fill="#262626" stroke="#262626" stroke-width="0.14">1</text>
<text x="403.00" y="321.83" text-anchor="middle" font-size="7.9" fill="#262626" stroke="#262626" stroke-width="0.14">0.0</text>
<text x="449.00" y="321.83" text-anchor="middle" font-size="7.95" fill="#262626" stroke="#262626" stroke-width="0.14">[0.0; 97.5]</text>
<text x="496.20" y="321.83" text-anchor="middle" font-size="7.6" fill="#262626" stroke="#262626" stroke-width="0.14">3.1%</text>
<text x="7.00" y="332.90" text-anchor="start" font-size="7.45" fill="#262626" stroke="#262626" stroke-width="0.14">Hirokawa, 2008</text>
<text x="183.80" y="332.90" text-anchor="middle" font-size="7.7" fill="#262626" stroke="#262626" stroke-width="0.14">1</text>
<text x="221.00" y="332.90" text-anchor="middle" font-size="7.7" fill="#262626" stroke="#262626" stroke-width="0.14">1</text>
<text x="403.00" y="332.90" text-anchor="middle" font-size="7.9" fill="#262626" stroke="#262626" stroke-width="0.14">100.0</text>
<text x="449.00" y="332.90" text-anchor="middle" font-size="7.95" fill="#262626" stroke="#262626" stroke-width="0.14">[2.5; 100.0]</text>
<text x="496.20" y="332.90" text-anchor="middle" font-size="7.6" fill="#262626" stroke="#262626" stroke-width="0.14">3.1%</text>
<text x="7.00" y="343.97" text-anchor="start" font-size="7.45" fill="#262626" stroke="#262626" stroke-width="0.14">Charles, 1996</text>
<text x="183.80" y="343.97" text-anchor="middle" font-size="7.7" fill="#262626" stroke="#262626" stroke-width="0.14">0</text>
<text x="221.00" y="343.97" text-anchor="middle" font-size="7.7" fill="#262626" stroke="#262626" stroke-width="0.14">1</text>
<text x="403.00" y="343.97" text-anchor="middle" font-size="7.9" fill="#262626" stroke="#262626" stroke-width="0.14">0.0</text>
<text x="449.00" y="343.97" text-anchor="middle" font-size="7.95" fill="#262626" stroke="#262626" stroke-width="0.14">[0.0; 97.5]</text>
<text x="496.20" y="343.97" text-anchor="middle" font-size="7.6" fill="#262626" stroke="#262626" stroke-width="0.14">3.1%</text>
<text x="7.00" y="355.05" text-anchor="start" font-size="7.8" fill="#111" font-weight="bold" stroke="#111" stroke-width="0.1">Random effects model</text>
<text x="183.80" y="355.05" text-anchor="middle" font-size="7.8" fill="#111" font-weight="bold" stroke="#111" stroke-width="0.1">1</text>
<text x="221.00" y="355.05" text-anchor="middle" font-size="7.8" fill="#111" font-weight="bold" stroke="#111" stroke-width="0.1">3</text>
<text x="403.00" y="355.05" text-anchor="middle" font-size="7.8" fill="#111" font-weight="bold" stroke="#111" stroke-width="0.1">33.3</text>
<text x="449.00" y="355.05" text-anchor="middle" font-size="7.8" fill="#111" font-weight="bold" stroke="#111" stroke-width="0.1">[0.0; 98.7]</text>
<text x="496.20" y="355.05" text-anchor="middle" font-size="7.8" fill="#111" font-weight="bold" stroke="#111" stroke-width="0.1">9.3%</text>
<text x="6.54" y="370.05" font-size="7.5" fill="#2e2e2e" stroke="#2e2e2e" stroke-width="0.14" textLength="48.49" lengthAdjust="spacingAndGlyphs">Heterogeneity:</text>
<text x="56.88" y="370.05" font-size="7.5" fill="#2e2e2e" font-style="italic" stroke="#2e2e2e" stroke-width="0.14" textLength="1.95" lengthAdjust="spacingAndGlyphs">I</text>
<text x="59.25" y="367.45" font-size="4.6" fill="#2e2e2e" stroke="#2e2e2e" stroke-width="0.14" textLength="2.20" lengthAdjust="spacingAndGlyphs">2</text>
<text x="63.67" y="370.05" font-size="7.5" fill="#2e2e2e" font-weight="bold" textLength="5.47" lengthAdjust="spacingAndGlyphs">=</text>
<text x="71.16" y="370.05" font-size="7.5" fill="#2e2e2e" stroke="#2e2e2e" stroke-width="0.14" textLength="17.38" lengthAdjust="spacingAndGlyphs">72%,</text>
<text x="92.26" y="370.05" font-size="7.5" fill="#2e2e2e" stroke="#2e2e2e" stroke-width="0.14" textLength="2.54" lengthAdjust="spacingAndGlyphs">τ</text>
<text x="95.25" y="367.45" font-size="4.6" fill="#2e2e2e" stroke="#2e2e2e" stroke-width="0.14" textLength="2.20" lengthAdjust="spacingAndGlyphs">2</text>
<text x="99.68" y="370.05" font-size="7.5" fill="#2e2e2e" font-weight="bold" textLength="5.23" lengthAdjust="spacingAndGlyphs">=</text>
<text x="107.45" y="370.05" font-size="7.5" fill="#2e2e2e" stroke="#2e2e2e" stroke-width="0.14" textLength="25.48" lengthAdjust="spacingAndGlyphs">0.2396,</text>
<text x="135.64" y="370.05" font-size="7.5" fill="#2e2e2e" font-style="italic" stroke="#2e2e2e" stroke-width="0.14" textLength="4.76" lengthAdjust="spacingAndGlyphs">P</text>
<text x="142.33" y="370.05" font-size="7.5" fill="#2e2e2e" font-weight="bold" textLength="5.93" lengthAdjust="spacingAndGlyphs">=</text>
<text x="149.52" y="370.05" font-size="7.5" fill="#2e2e2e" stroke="#2e2e2e" stroke-width="0.14" textLength="11.18" lengthAdjust="spacingAndGlyphs">.03</text>
<text x="7.00" y="388.27" text-anchor="start" font-size="7.8" fill="#111" font-weight="bold" stroke="#111" stroke-width="0.1">AZA</text>
<text x="7.00" y="399.34" text-anchor="start" font-size="7.45" fill="#262626" stroke="#262626" stroke-width="0.14">Charles, 1996</text>
<text x="183.80" y="399.34" text-anchor="middle" font-size="7.7" fill="#262626" stroke="#262626" stroke-width="0.14">0</text>
<text x="221.00" y="399.34" text-anchor="middle" font-size="7.7" fill="#262626" stroke="#262626" stroke-width="0.14">1</text>
<text x="403.00" y="399.34" text-anchor="middle" font-size="7.9" fill="#262626" stroke="#262626" stroke-width="0.14">0.0</text>
<text x="449.00" y="399.34" text-anchor="middle" font-size="7.95" fill="#262626" stroke="#262626" stroke-width="0.14">[0.0; 97.5]</text>
<text x="496.20" y="399.34" text-anchor="middle" font-size="7.6" fill="#262626" stroke="#262626" stroke-width="0.14">3.1%</text>
<text x="7.00" y="421.49" text-anchor="start" font-size="7.8" fill="#111" font-weight="bold" stroke="#111" stroke-width="0.1">RTX</text>
<text x="7.00" y="432.56" text-anchor="start" font-size="7.45" fill="#262626" stroke="#262626" stroke-width="0.14">Rivoisy, 2015</text>
<text x="183.80" y="432.56" text-anchor="middle" font-size="7.7" fill="#262626" stroke="#262626" stroke-width="0.14">2</text>
<text x="221.00" y="432.56" text-anchor="middle" font-size="7.7" fill="#262626" stroke="#262626" stroke-width="0.14">4</text>
<text x="403.00" y="432.56" text-anchor="middle" font-size="7.9" fill="#262626" stroke="#262626" stroke-width="0.14">50.0</text>
<text x="449.00" y="432.56" text-anchor="middle" font-size="7.95" fill="#262626" stroke="#262626" stroke-width="0.14">[6.8; 93.2]</text>
<text x="496.20" y="432.56" text-anchor="middle" font-size="7.6" fill="#262626" stroke="#262626" stroke-width="0.14">4.0%</text>
<text x="7.00" y="454.70" text-anchor="start" font-size="7.8" fill="#111" font-weight="bold" stroke="#111" stroke-width="0.1">Sirolimus</text>
<text x="7.00" y="465.78" text-anchor="start" font-size="7.45" fill="#262626" stroke="#262626" stroke-width="0.14">Huang, 2022</text>
<text x="183.80" y="465.78" text-anchor="middle" font-size="7.7" fill="#262626" stroke="#262626" stroke-width="0.14">3</text>
<text x="221.00" y="465.78" text-anchor="middle" font-size="7.7" fill="#262626" stroke="#262626" stroke-width="0.14">3</text>
<text x="403.00" y="465.78" text-anchor="middle" font-size="7.9" fill="#262626" stroke="#262626" stroke-width="0.14">100.0</text>
<text x="449.00" y="465.78" text-anchor="middle" font-size="7.95" fill="#262626" stroke="#262626" stroke-width="0.14">[29.2; 100.0]</text>
<text x="496.20" y="465.78" text-anchor="middle" font-size="7.6" fill="#262626" stroke="#262626" stroke-width="0.14">5.9%</text>
<text x="7.00" y="487.92" text-anchor="start" font-size="7.8" fill="#111" font-weight="bold" stroke="#111" stroke-width="0.1">Alemtuzumab</text>
<text x="7.00" y="499.00" text-anchor="start" font-size="7.45" fill="#262626" stroke="#262626" stroke-width="0.14">Rivoisy, 2015</text>
<text x="183.80" y="499.00" text-anchor="middle" font-size="7.7" fill="#262626" stroke="#262626" stroke-width="0.14">1</text>
<text x="221.00" y="499.00" text-anchor="middle" font-size="7.7" fill="#262626" stroke="#262626" stroke-width="0.14">1</text>
<text x="403.00" y="499.00" text-anchor="middle" font-size="7.9" fill="#262626" stroke="#262626" stroke-width="0.14">100.0</text>
<text x="449.00" y="499.00" text-anchor="middle" font-size="7.95" fill="#262626" stroke="#262626" stroke-width="0.14">[2.5; 100.0]</text>
<text x="496.20" y="499.00" text-anchor="middle" font-size="7.6" fill="#262626" stroke="#262626" stroke-width="0.14">3.1%</text>
<text x="7.00" y="521.64" text-anchor="start" font-size="7.8" fill="#111" font-weight="bold" stroke="#111" stroke-width="0.1">Random effects model</text>
<text x="183.80" y="521.64" text-anchor="middle" font-size="7.8" fill="#111" font-weight="bold" stroke="#111" stroke-width="0.1">79</text>
<text x="221.00" y="521.64" text-anchor="middle" font-size="7.8" fill="#111" font-weight="bold" stroke="#111" stroke-width="0.1">104</text>
<text x="403.00" y="521.64" text-anchor="middle" font-size="7.8" fill="#111" font-weight="bold" stroke="#111" stroke-width="0.1">75.9</text>
<text x="449.00" y="521.64" text-anchor="middle" font-size="7.8" fill="#111" font-weight="bold" stroke="#111" stroke-width="0.1">[63.1; 88.8]</text>
<text x="496.20" y="521.64" text-anchor="middle" font-size="7.8" fill="#111" font-weight="bold" stroke="#111" stroke-width="0.1">100.0%</text>
<text x="6.54" y="535.94" font-size="7.5" fill="#2e2e2e" stroke="#2e2e2e" stroke-width="0.14" textLength="48.49" lengthAdjust="spacingAndGlyphs">Heterogeneity:</text>
<text x="56.88" y="535.94" font-size="7.5" fill="#2e2e2e" font-style="italic" stroke="#2e2e2e" stroke-width="0.14" textLength="1.95" lengthAdjust="spacingAndGlyphs">I</text>
<text x="59.25" y="533.34" font-size="4.6" fill="#2e2e2e" stroke="#2e2e2e" stroke-width="0.14" textLength="2.20" lengthAdjust="spacingAndGlyphs">2</text>
<text x="63.67" y="535.94" font-size="7.5" fill="#2e2e2e" font-weight="bold" textLength="5.47" lengthAdjust="spacingAndGlyphs">=</text>
<text x="71.25" y="535.94" font-size="7.5" fill="#2e2e2e" stroke="#2e2e2e" stroke-width="0.14" textLength="17.29" lengthAdjust="spacingAndGlyphs">58%,</text>
<text x="92.26" y="535.94" font-size="7.5" fill="#2e2e2e" stroke="#2e2e2e" stroke-width="0.14" textLength="2.54" lengthAdjust="spacingAndGlyphs">τ</text>
<text x="95.25" y="533.34" font-size="4.6" fill="#2e2e2e" stroke="#2e2e2e" stroke-width="0.14" textLength="2.20" lengthAdjust="spacingAndGlyphs">2</text>
<text x="99.68" y="535.94" font-size="7.5" fill="#2e2e2e" font-weight="bold" textLength="5.23" lengthAdjust="spacingAndGlyphs">=</text>
<text x="107.45" y="535.94" font-size="7.5" fill="#2e2e2e" stroke="#2e2e2e" stroke-width="0.14" textLength="25.48" lengthAdjust="spacingAndGlyphs">0.0449,</text>
<text x="135.64" y="535.94" font-size="7.5" fill="#2e2e2e" font-style="italic" stroke="#2e2e2e" stroke-width="0.14" textLength="4.76" lengthAdjust="spacingAndGlyphs">P</text>
<text x="143.26" y="535.94" font-size="7.5" fill="#2e2e2e" stroke="#2e2e2e" stroke-width="0.14" textLength="3.61" lengthAdjust="spacingAndGlyphs">&lt;</text>
<text x="149.01" y="535.94" font-size="7.5" fill="#2e2e2e" stroke="#2e2e2e" stroke-width="0.14" textLength="9.83" lengthAdjust="spacingAndGlyphs">.01</text>
<text x="6.98" y="549.04" font-size="7.5" fill="#2e2e2e" stroke="#2e2e2e" stroke-width="0.14" textLength="100.66" lengthAdjust="spacingAndGlyphs">Test for subgroup differences:</text>
<text x="108.99" y="549.04" font-size="7.5" fill="#2e2e2e" stroke="#2e2e2e" stroke-width="0.14" textLength="3.33" lengthAdjust="spacingAndGlyphs">χ</text>
<text x="112.85" y="545.64" font-size="4.6" fill="#2e2e2e" stroke="#2e2e2e" stroke-width="0.14" textLength="2.20" lengthAdjust="spacingAndGlyphs">2</text>
<text x="112.86" y="551.94" font-size="4.6" fill="#2e2e2e" stroke="#2e2e2e" stroke-width="0.14" textLength="2.16" lengthAdjust="spacingAndGlyphs">6</text>
<text x="117.67" y="549.04" font-size="7.5" fill="#2e2e2e" font-weight="bold" textLength="5.47" lengthAdjust="spacingAndGlyphs">=</text>
<text x="125.35" y="549.04" font-size="7.5" fill="#2e2e2e" stroke="#2e2e2e" stroke-width="0.14" textLength="22.02" lengthAdjust="spacingAndGlyphs">14.69,</text>
<text x="149.35" y="549.04" font-size="7.5" fill="#2e2e2e" stroke="#2e2e2e" stroke-width="0.14" textLength="5.99" lengthAdjust="spacingAndGlyphs">df</text>
<text x="157.38" y="549.04" font-size="7.5" fill="#2e2e2e" font-weight="bold" textLength="5.23" lengthAdjust="spacingAndGlyphs">=</text>
<text x="164.97" y="549.04" font-size="7.5" fill="#2e2e2e" stroke="#2e2e2e" stroke-width="0.14" textLength="3.12" lengthAdjust="spacingAndGlyphs">6</text>
<text x="172.27" y="549.04" font-size="7.5" fill="#2e2e2e" stroke="#2e2e2e" stroke-width="0.14" textLength="1.50" lengthAdjust="spacingAndGlyphs">(</text>
<text x="175.04" y="549.04" font-size="7.5" fill="#2e2e2e" font-style="italic" stroke="#2e2e2e" stroke-width="0.14" textLength="4.76" lengthAdjust="spacingAndGlyphs">P</text>
<text x="181.13" y="549.04" font-size="7.5" fill="#2e2e2e" font-weight="bold" textLength="5.93" lengthAdjust="spacingAndGlyphs">=</text>
<text x="187.70" y="549.04" font-size="7.5" fill="#2e2e2e" stroke="#2e2e2e" stroke-width="0.14" textLength="9.91" lengthAdjust="spacingAndGlyphs">.02</text>
<text x="198.96" y="549.04" font-size="7.5" fill="#2e2e2e" stroke="#2e2e2e" stroke-width="0.14" textLength="2.50" lengthAdjust="spacingAndGlyphs">)</text>
<text x="241.50" y="538.20" text-anchor="middle" font-size="8.0" fill="#333" stroke="#333" stroke-width="0.14">0</text>
<text x="267.70" y="538.20" text-anchor="middle" font-size="8.0" fill="#333" stroke="#333" stroke-width="0.14">20</text>
<text x="293.90" y="538.20" text-anchor="middle" font-size="8.0" fill="#333" stroke="#333" stroke-width="0.14">40</text>
<text x="320.10" y="538.20" text-anchor="middle" font-size="8.0" fill="#333" stroke="#333" stroke-width="0.14">60</text>
<text x="346.30" y="538.20" text-anchor="middle" font-size="8.0" fill="#333" stroke="#333" stroke-width="0.14">80</text>
<text x="372.50" y="538.20" text-anchor="middle" font-size="8.0" fill="#333" stroke="#333" stroke-width="0.14">100</text>
</svg>
</body></html>
